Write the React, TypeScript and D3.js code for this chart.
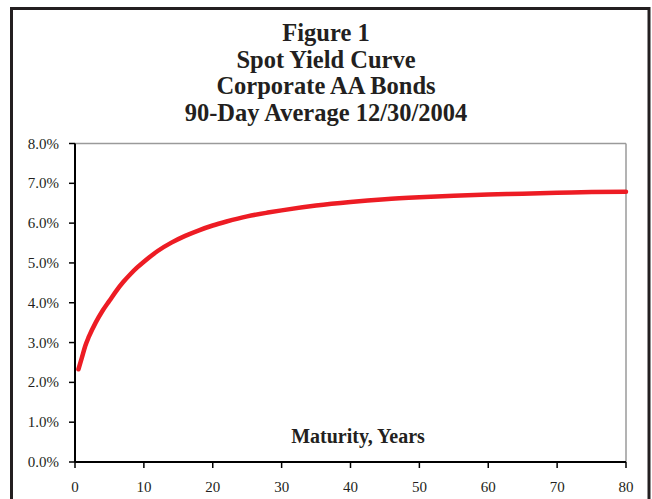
import React from "react";
import * as d3 from "d3";

const titleLines = ["Figure 1", "Spot Yield Curve", "Corporate AA Bonds", "90-Day Average 12/30/2004"];
const xAxisTitle = "Maturity, Years";

const maturities = [0.5, 1, 1.5, 2, 3, 4, 5, 6, 7, 8, 9, 10, 12, 14, 16, 18, 20, 22, 25, 28, 30, 35, 40, 45, 50, 55, 60, 65, 70, 75, 80];
const spotYields = [0.0233, 0.0262, 0.0292, 0.0314, 0.035, 0.038, 0.0405, 0.043, 0.0452, 0.0471, 0.0488, 0.0503, 0.053, 0.0551, 0.0568, 0.0582, 0.0594, 0.0604, 0.0617, 0.06265, 0.0632, 0.0644, 0.0653, 0.066, 0.0665, 0.0669, 0.0672, 0.0674, 0.0676, 0.0678, 0.0679];

const xTicks = [0, 10, 20, 30, 40, 50, 60, 70, 80];
const yTicks = [0, 0.01, 0.02, 0.03, 0.04, 0.05, 0.06, 0.07, 0.08];

const W = 652;
const H = 499;
const plot = { left: 75, right: 626, top: 143.5, bottom: 462 };

export default function App() {
  const x = d3.scaleLinear().domain([0, 80]).range([plot.left, plot.right]);
  const y = d3.scaleLinear().domain([0, 0.08]).range([plot.bottom, plot.top]);
  const fmt = d3.format(".1%");
  const data = maturities.map((m, i) => [m, spotYields[i]] as [number, number]);
  const line = d3
    .line<[number, number]>()
    .x((d) => x(d[0]))
    .y((d) => y(d[1]))
    .curve(d3.curveMonotoneX);

  const serif = "'Liberation Serif', 'Times New Roman', serif";

  return (
    <svg
      width={W}
      height={H}
      style={{ position: "absolute", left: 0, top: 0, background: "#fff" }}
      fontFamily={serif}
    >
      <rect x={0} y={0} width={W} height={H} fill="#fff" />
      {/* outer frame */}
      <rect x={11.5} y={8.5} width={637.5} height={620} fill="none" stroke="#231f20" strokeWidth={3} />

      {/* title */}
      {titleLines.map((t, i) => (
        <text
          key={i}
          x={326}
          y={41 + i * 26.7}
          textAnchor="middle"
          fontSize={24.5}
          fontWeight="bold"
          fill="#231f20"
        >
          {t}
        </text>
      ))}

      {/* plot area border (top & right grey) */}
      <line x1={plot.left} x2={plot.right} y1={plot.top} y2={plot.top} stroke="#9a9a9a" strokeWidth={1.5} />
      <line x1={plot.right} x2={plot.right} y1={plot.top} y2={plot.bottom} stroke="#9a9a9a" strokeWidth={1.5} />

      {/* y axis */}
      <line x1={plot.left} x2={plot.left} y1={plot.top} y2={plot.bottom} stroke="#000" strokeWidth={2} />
      {yTicks.map((t) => (
        <g key={t}>
          <line x1={plot.left - 6} x2={plot.left} y1={y(t)} y2={y(t)} stroke="#000" strokeWidth={1.5} />
          <text x={plot.left - 16} y={y(t) + 5} textAnchor="end" fontSize={15} fill="#231f20">
            {fmt(t)}
          </text>
        </g>
      ))}

      {/* x axis */}
      <line x1={plot.left} x2={plot.right} y1={plot.bottom} y2={plot.bottom} stroke="#000" strokeWidth={2} />
      {xTicks.map((t) => (
        <g key={t}>
          <line x1={x(t)} x2={x(t)} y1={plot.bottom} y2={plot.bottom + 6} stroke="#000" strokeWidth={1.5} />
          <text x={x(t)} y={492} textAnchor="middle" fontSize={15} fill="#231f20">
            {t}
          </text>
        </g>
      ))}

      <text x={358} y={443} textAnchor="middle" fontSize={20} fontWeight="bold" fill="#231f20">
        {xAxisTitle}
      </text>

      {/* curve */}
      <path d={line(data) || ""} fill="none" stroke="#ed1c24" strokeWidth={4.5} strokeLinecap="round" strokeLinejoin="round" />
    </svg>
  );
}
